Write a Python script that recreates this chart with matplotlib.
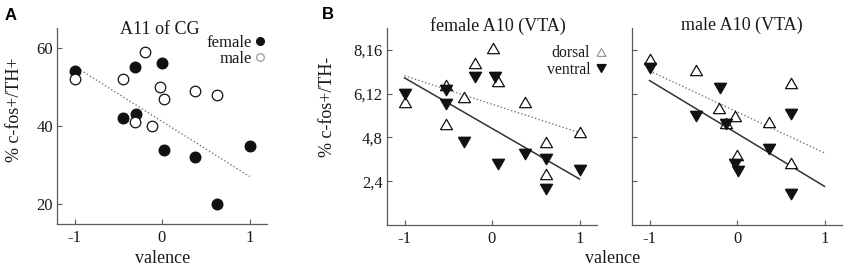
import numpy as np
import matplotlib.pyplot as plt
from matplotlib.lines import Line2D

plt.rcParams['font.family'] = 'Liberation Serif'

# A: A11 of CG, % c-fos+/TH+ vs valence
a11_female_val = [-1.0, -0.31, 0.0, -0.45, -0.30, 0.02, 0.38, 1.0, 0.63]
a11_female_pct = [54, 55, 56, 42, 43, 34, 32, 35, 20]
a11_male_val = [-1.0, -0.20, -0.45, -0.02, 0.02, -0.31, -0.12, 0.38, 0.63]
a11_male_pct = [52, 59, 52, 50, 47, 41, 40, 49, 48]

# B: A10 (VTA), % c-fos+/TH-; dorsal on the 2..8 scale, ventral on the 4..16 scale
vta_f_dorsal_val = [-1.0, -0.53, -0.53, -0.32, -0.20, 0.01, 0.07, 0.38, 0.62, 0.62, 1.0]
vta_f_dorsal_pct = [5.6, 6.4, 4.6, 5.85, 7.4, 8.1, 6.6, 5.6, 3.8, 2.35, 4.25]
vta_f_ventral_val = [-1.0, -0.53, -0.53, -0.32, -0.20, 0.03, 0.07, 0.38, 0.62, 0.62, 1.0]
vta_f_ventral_pct = [12.0, 12.3, 11.1, 7.6, 13.5, 13.5, 5.6, 6.5, 6.0, 3.3, 5.0]
vta_m_dorsal_val = [-1.0, -0.47, -0.21, -0.02, -0.13, 0.0, 0.36, 0.62, 0.62]
vta_m_dorsal_pct = [7.6, 7.1, 5.35, 5.0, 4.65, 3.2, 4.7, 6.5, 2.85]
vta_m_ventral_val = [-1.0, -0.47, -0.20, -0.13, -0.02, 0.01, 0.36, 0.62, 0.62]
vta_m_ventral_pct = [14.3, 10.0, 12.5, 9.2, 5.6, 4.9, 6.9, 10.1, 2.8]

dorsal_ticks = [2, 4, 6, 8]
VENTRAL_SCALE = 2

W, H = 851, 272
DARK = '#111111'
SPINE = '#5a5a5a'
TXT = '#1a1a1a'

# equilateral triangles
TRI_UP = [(-1, -0.866), (1, -0.866), (0, 0.866), (-1, -0.866)]
TRI_DN = [(-1, 0.866), (1, 0.866), (0, -0.866), (-1, 0.866)]


def px_axes(fig, l, t, r, b):
    return fig.add_axes([l / W, 1 - b / H, (r - l) / W, (b - t) / H])


def style(ax):
    for s in ['top', 'right']:
        ax.spines[s].set_visible(False)
    for s in ['left', 'bottom']:
        ax.spines[s].set_color(SPINE)
        ax.spines[s].set_linewidth(0.9)
    ax.tick_params(direction='in', length=3.5, width=0.8, color=SPINE,
                   labelsize=12, labelcolor=TXT)
    ax.tick_params(axis='y', pad=3)
    ax.tick_params(axis='x', pad=4)
    ax.set_xlim(-1.2, 1.2)
    ax.set_xticks([-1, 0, 1])
    ax.set_xticklabels(['-1', '0', '1'])


def fit_line(ax, x, y, ls, color, lw):
    k, b = np.polyfit(x, y, 1)
    xs = np.array([-1.0, 1.0])
    ax.plot(xs, k * xs + b, ls=ls, color=color, lw=lw, zorder=1)


fig = plt.figure(figsize=(W / 100, H / 100), dpi=100)
dotted = (0, (1, 1.6))

# ---- panel A
ax = px_axes(fig, 57, 28, 267, 224)
style(ax)
ax.set_ylim(15, 65)
ax.set_yticks([20, 40, 60])
fit_line(ax, a11_female_val, a11_female_pct, dotted, '#777777', 1.0)
ax.plot(a11_female_val, a11_female_pct, 'o', ms=7.6, mfc=DARK, mec=DARK, zorder=3)
ax.plot(a11_male_val, a11_male_pct, 'o', ms=7.6, mfc='white', mec=DARK, mew=0.9, zorder=3)
hA = [Line2D([], [], ls='none', marker='o', ms=5.5, mfc=DARK, mec=DARK),
      Line2D([], [], ls='none', marker='o', ms=5.5, mfc='white', mec='#999999', mew=0.9)]
ax.legend(hA, ['female', 'male'], loc='upper right', bbox_to_anchor=(265 / W, 1 - 35 / H),
          bbox_transform=fig.transFigure, frameon=False, markerfirst=False, fontsize=12,
          handlelength=0.6, handletextpad=0.2, labelspacing=0.0, borderpad=0, borderaxespad=0,
          labelcolor=TXT)

# ---- panel B
axes_b = [px_axes(fig, 387, 28, 597, 225), px_axes(fig, 632, 28, 842, 225)]
groups = [(vta_f_dorsal_val, vta_f_dorsal_pct, vta_f_ventral_val, vta_f_ventral_pct),
          (vta_m_dorsal_val, vta_m_dorsal_pct, vta_m_ventral_val, vta_m_ventral_pct)]
for ax, (dx, dy, vx, vy) in zip(axes_b, groups):
    style(ax)
    ax.set_ylim(0, 9)
    ax.set_yticks(dorsal_ticks)
    vy_axis = np.array(vy) / VENTRAL_SCALE
    fit_line(ax, dx, dy, dotted, '#777777', 1.0)
    fit_line(ax, vx, vy_axis, '-', '#333333', 1.1)
    ax.plot(dx, dy, ls='none', marker=TRI_UP, ms=8.6, mfc='white', mec=DARK, mew=0.9, zorder=3)
    ax.plot(vx, vy_axis, ls='none', marker=TRI_DN, ms=8.6, mfc=DARK, mec=DARK, zorder=3)

axes_b[0].set_yticklabels([f'{d},{d * VENTRAL_SCALE}' for d in dorsal_ticks])
axes_b[1].set_yticklabels([])

hB = [Line2D([], [], ls='none', marker=TRI_UP, ms=6.5, mfc='white', mec='#999999', mew=0.9),
      Line2D([], [], ls='none', marker=TRI_DN, ms=6.5, mfc=DARK, mec=DARK)]
axes_b[0].legend(hB, ['dorsal', 'ventral'], loc='upper right', bbox_to_anchor=(609 / W, 1 - 45 / H),
                 bbox_transform=fig.transFigure, frameon=False, markerfirst=False, fontsize=11.3,
                 handlelength=1.0, handletextpad=0.2, labelspacing=0.05, borderpad=0,
                 borderaxespad=0, labelcolor=TXT)

# ---- texts
fig.text(160 / W, 1 - 34 / H, 'A11 of CG', ha='center', va='baseline', fontsize=13, color=TXT)
fig.text(498 / W, 1 - 31 / H, 'female A10 (VTA)', ha='center', va='baseline', fontsize=13, color=TXT)
fig.text(742 / W, 1 - 30 / H, 'male A10 (VTA)', ha='center', va='baseline', fontsize=13, color=TXT)

fig.text(163 / W, 1 - 263 / H, 'valence', ha='center', va='baseline', fontsize=13, color=TXT)
fig.text(613 / W, 1 - 263 / H, 'valence', ha='center', va='baseline', fontsize=13, color=TXT)
fig.text(15 / W, 1 - 110 / H, '% c-fos+/TH+', rotation=90, ha='center', va='center',
         fontsize=13, color=TXT)
fig.text(328 / W, 1 - 107 / H, '% c-fos+/TH-', rotation=90, ha='center', va='center',
         fontsize=13, color=TXT)

fig.text(5 / W, 1 - 20 / H, 'A', fontsize=12, fontweight='bold', family='Liberation Sans',
         va='baseline', color='black')
fig.text(322 / W, 1 - 19 / H, 'B', fontsize=12, fontweight='bold', family='Liberation Sans',
         va='baseline', color='black')

fig.savefig('out.png', dpi=100)
